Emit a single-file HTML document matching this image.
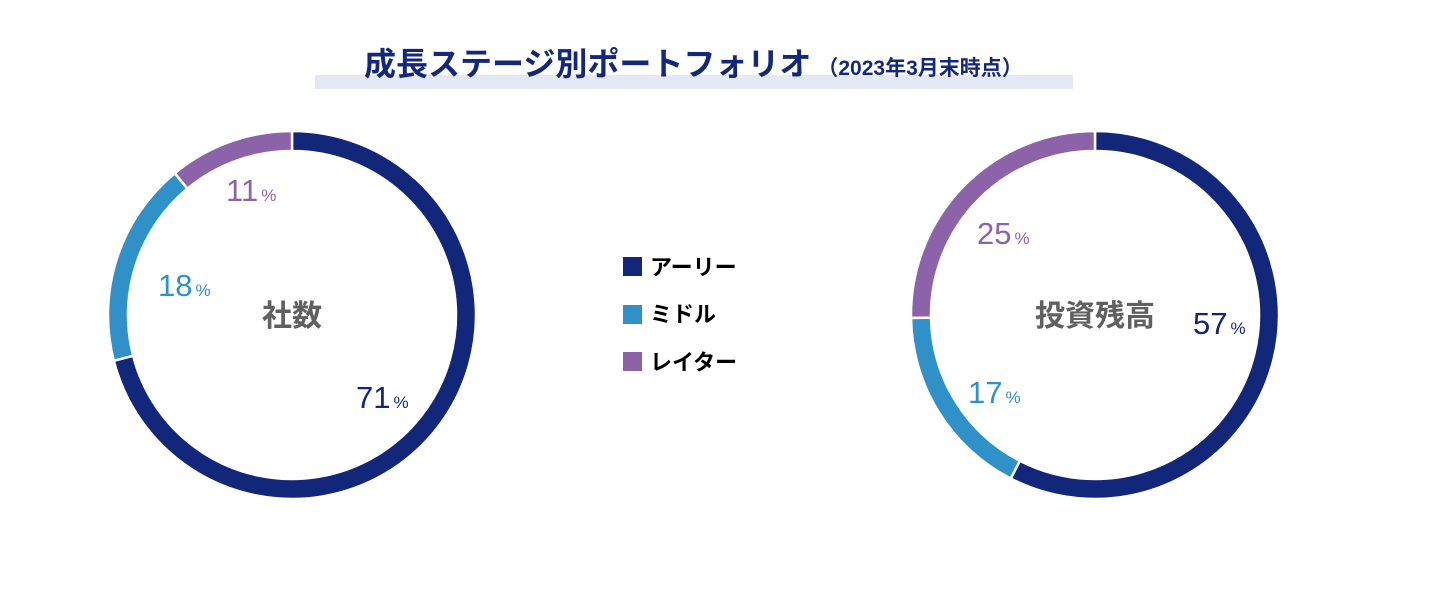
<!DOCTYPE html>
<html><head><meta charset="utf-8"><style>
body{margin:0;background:#fff;width:1445px;height:604px;overflow:hidden;font-family:"Liberation Sans","Noto Sans CJK JP",sans-serif;}
svg text{font-family:"Liberation Sans","Noto Sans CJK JP",sans-serif;}
</style></head><body>
<svg id="c" width="1445" height="604" xmlns="http://www.w3.org/2000/svg">
<rect x="315" y="75" width="758" height="14" fill="#e3e8f4"/>
<text x="364" y="75" font-size="32" font-weight="bold" fill="#13287a">成長ステージ別ポートフォリオ<tspan font-size="21" dx="6">（2023年3月末時点）</tspan></text>
<g>
<rect x="623" y="257" width="19" height="19" fill="#12277a"/>
<text x="650" y="275" font-size="22" font-weight="bold" fill="#000">アーリー</text>
<rect x="623" y="305" width="19" height="19" fill="#3090c8"/>
<text x="650" y="322" font-size="22" font-weight="bold" fill="#000">ミドル</text>
<rect x="623" y="352" width="19" height="19" fill="#8c62a9"/>
<text x="650" y="370" font-size="22" font-weight="bold" fill="#000">レイター</text>
</g>
</svg>
<script>
const categories=["アーリー","ミドル","レイター"];
const companyValues=[71,18,11];
const amountValues=[57,17,25];
const colors=["#12277a","#3090c8","#8c62a9"];
const svg=document.getElementById('c');
const NS="http://www.w3.org/2000/svg";
function pt(cx,cy,r,a){return [cx+r*Math.sin(a),cy-r*Math.cos(a)];}
function donut(cx,cy,vals,name,center,labelPos){
  const g=document.createElementNS(NS,'g');
  
  
  svg.appendChild(g);
  const tot=vals.reduce((a,b)=>a+b,0);
  const r0=164,r1=184;
  let acc=0;
  vals.forEach((v,i)=>{
    const a0=acc/tot*2*Math.PI, a1=(acc+v)/tot*2*Math.PI; acc+=v;
    const lg=(a1-a0)>Math.PI?1:0;
    const p1=pt(cx,cy,r1,a0),p2=pt(cx,cy,r1,a1),p3=pt(cx,cy,r0,a1),p4=pt(cx,cy,r0,a0);
    const p=document.createElementNS(NS,'path');
    p.setAttribute('d',`M${p1}A${r1},${r1} 0 ${lg} 1 ${p2}L${p3}A${r0},${r0} 0 ${lg} 0 ${p4}Z`);
    p.setAttribute('fill',colors[i]);p.setAttribute('stroke','#fff');p.setAttribute('stroke-width','2.5');
    
    
    g.appendChild(p);
    const t=document.createElementNS(NS,'text');
    t.setAttribute('x',labelPos[i][0]);t.setAttribute('y',labelPos[i][1]);
    t.setAttribute('font-size','31');t.setAttribute('fill',colors[i]);
    t.innerHTML=v+'<tspan font-size="17" dx="3">%</tspan>';
    
    
    g.appendChild(t);
  });
  const c=document.createElementNS(NS,'text');
  c.setAttribute('x',cx);c.setAttribute('y',cy+11);c.setAttribute('text-anchor','middle');
  c.setAttribute('font-size','30');c.setAttribute('font-weight','bold');c.setAttribute('fill','#606060');
  c.textContent=center;
  
  
  g.appendChild(c);
}
donut(292,315,companyValues,'donut-company-count','社数',[[356,408],[158,296],[226,201]]);
donut(1095,315,amountValues,'donut-investment-balance','投資残高',[[1193,334],[968,403],[977,244]]);
</script>
</body></html>
